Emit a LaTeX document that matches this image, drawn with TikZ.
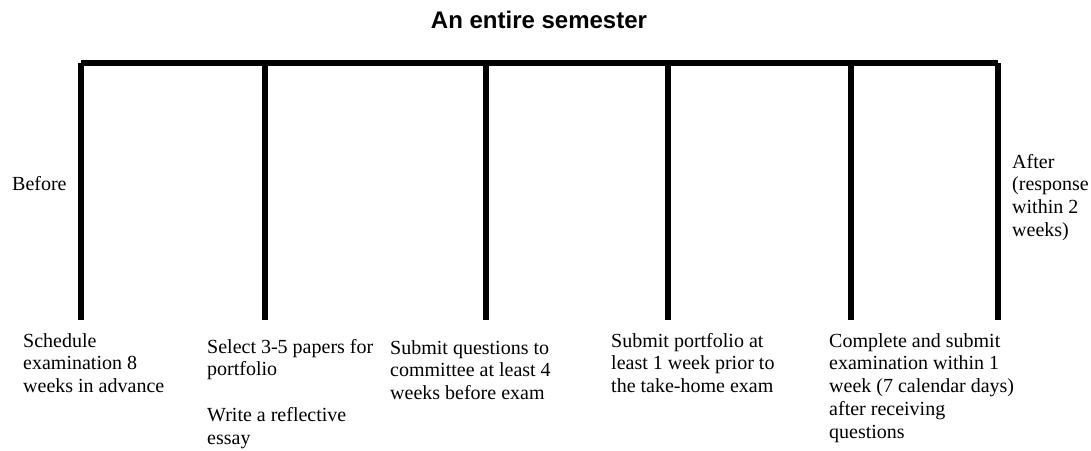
\documentclass[tikz,border=0pt]{standalone}
\usepackage{fontspec}
\setmainfont{Liberation Serif}
\setsansfont{Liberation Sans}
\usetikzlibrary{positioning}

\tikzset{
  bar/.style={line width=6pt, black},
  steptext/.style={anchor=base west, align=left, inner sep=0pt,
    font=\fontsize{20}{22.8}\selectfont},
}

\begin{document}
\begin{tikzpicture}[x=1pt, y=-1pt]
    \useasboundingbox (0,0) rectangle (1091,450);

    % Title
    \node[anchor=base, inner sep=0pt, font=\sffamily\bfseries\fontsize{24}{28}\selectfont] (title) at (539,28) {An entire semester};

    % Timeline points
    \coordinate (t1) at (81,63);  \coordinate (b1) at (81,320);
    \coordinate (t2) at (265,63); \coordinate (b2) at (265,320);
    \coordinate (t3) at (486,63); \coordinate (b3) at (486,320);
    \coordinate (t4) at (668,63); \coordinate (b4) at (668,320);
    \coordinate (t5) at (851,63); \coordinate (b5) at (851,320);
    \coordinate (t6) at (998,63); \coordinate (b6) at (998,320);

    % Bar and ticks
    \draw[bar] (t1) -- (t6);
    \draw[bar] (t1) -- (b1);
    \draw[bar] (t2) -- (b2);
    \draw[bar] (t3) -- (b3);
    \draw[bar] (t4) -- (b4);
    \draw[bar] (t5) -- (b5);
    \draw[bar] (t6) -- (b6);

    % Side labels (placed at the baseline of the last line)
    \node[steptext] (before) at (12,190) {Before};
    \node[steptext] (after) at (1012,236.4) {After\\(response\\within 2\\weeks)};

    % Step labels
    \node[steptext] (schedule) at (23,392.6) {Schedule\\examination 8\\weeks in advance};
    \node[steptext] (select) at (207,444.2) {Select 3-5 papers for\\portfolio\\[22.8pt]Write a reflective\\essay};
    \node[steptext] (questions) at (390,399.6) {Submit questions to\\committee at least 4\\weeks before exam};
    \node[steptext] (portfolio) at (611,392.6) {Submit portfolio at\\least 1 week prior to\\the take-home exam};
    \node[steptext] (complete) at (829,438.2) {Complete and submit\\examination within 1\\week (7 calendar days)\\after receiving\\questions};
\end{tikzpicture}
\end{document}
